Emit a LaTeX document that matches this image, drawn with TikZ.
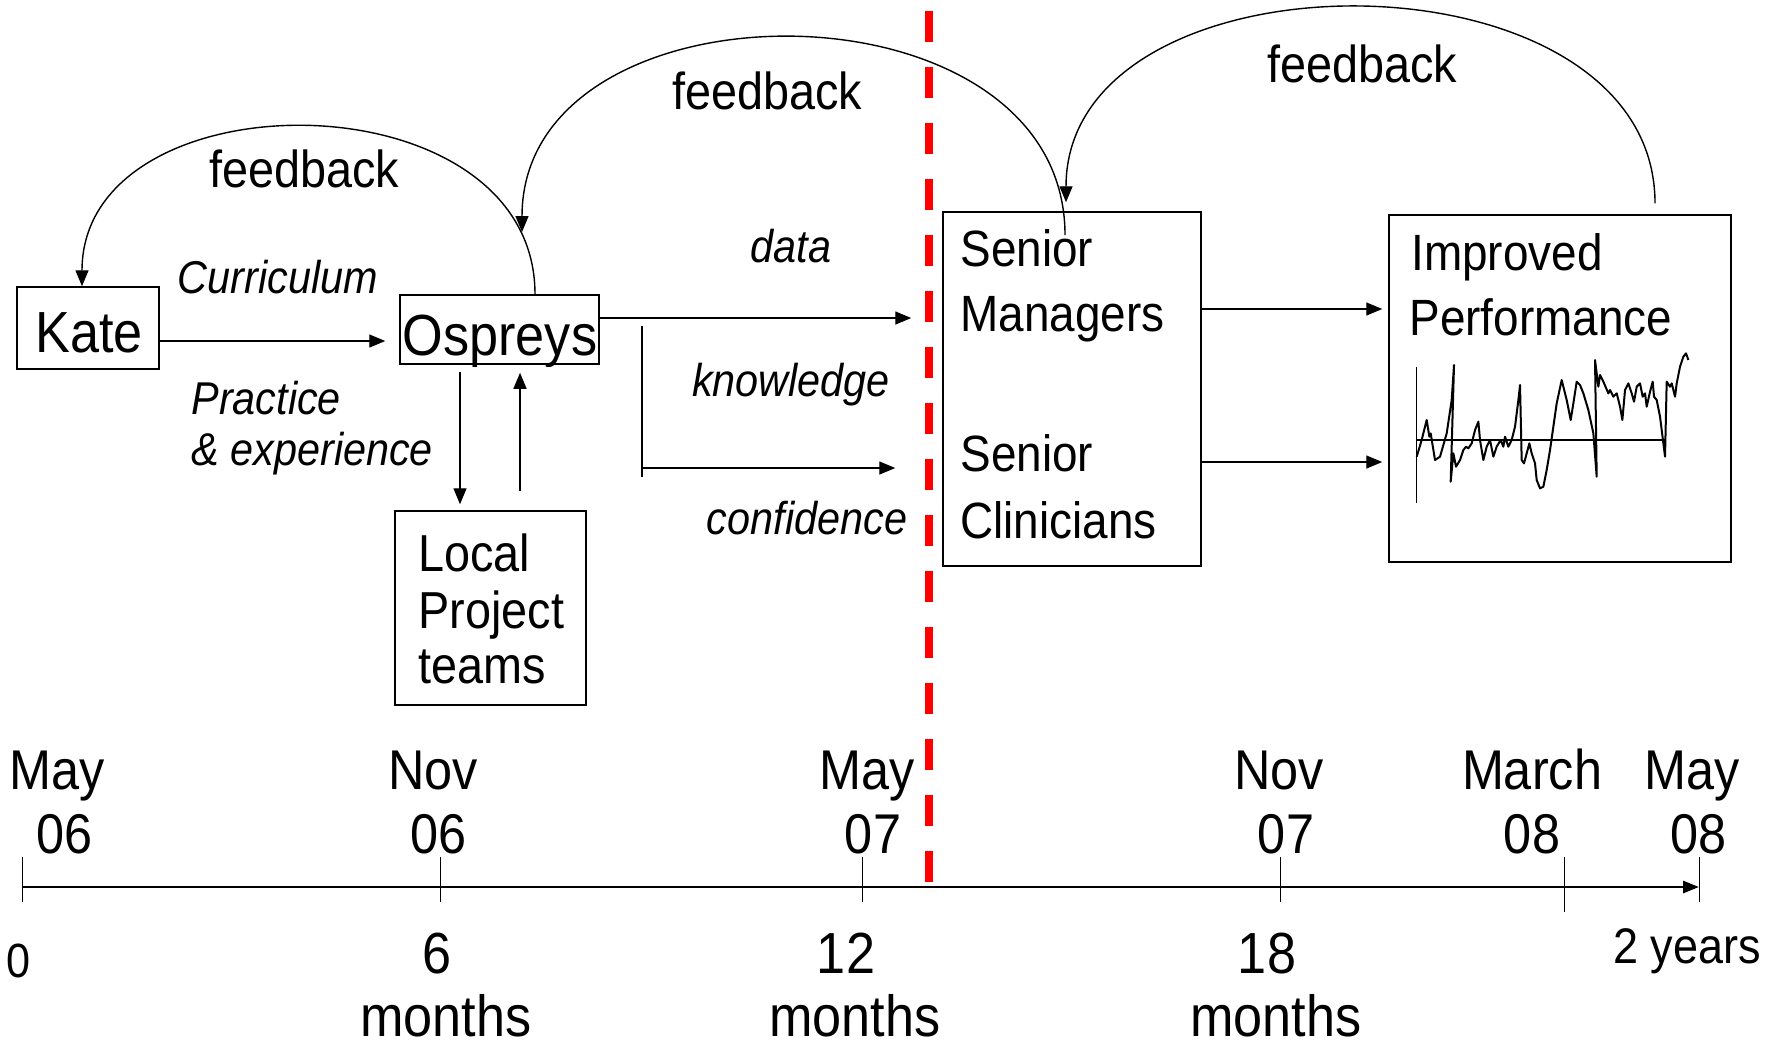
\documentclass[tikz,border=0pt]{standalone}
\usepackage{fontspec}
\setmainfont{Liberation Sans}[FakeStretch=0.9]
\usetikzlibrary{arrows.meta}
\newcommand\myfs[1]{\fontsize{#1pt}{#1pt}\selectfont}
\begin{document}
\begin{tikzpicture}[x=0.5pt,y=-0.5pt,
  box/.style={draw, line width=0.75pt, inner sep=0pt},
  txt/.style={inner sep=0pt, anchor=base west},
  ctxt/.style={inner sep=0pt, anchor=base},
  arr/.style={line width=0.7pt, -{Triangle[length=8pt,width=6.5pt]}},
  reddash/.style={draw=red, line width=3.8pt, dash pattern=on 15.5pt off 12.5pt},
  axisline/.style={line width=1.4pt, -{Triangle[length=8pt,width=6pt]}},
  tickline/.style={line width=0.5pt},
  chartline/.style={line width=1pt, line join=round},
  lbl/.style={ctxt, font={\myfs{23}\itshape}},
  fb/.style={ctxt, font={\myfs{26}}},
  date/.style={ctxt, font={\myfs{28}}},
  mon/.style={ctxt, font={\myfs{29}}}]
\useasboundingbox (0,0) rectangle (1780,1046);
\fill[white] (0,0) rectangle (1780,1046);

% boxes
\node[box, minimum width=71pt, minimum height=41pt] (kate) at (88,328) {};
\node[box, minimum width=99.5pt, minimum height=34.5pt] (ospreys) at (499.5,329.5) {};
\node[box, minimum width=95.5pt, minimum height=97pt] (local) at (490.5,608) {};
\node[box, minimum width=129pt, minimum height=177pt] (senior) at (1072,389) {};
\node[box, minimum width=171pt, minimum height=173.5pt] (improved) at (1560,388.5) {};

% box texts
\node[ctxt, font={\myfs{29}}] (katet) at (89,352) {Kate};
\node[ctxt, font={\myfs{29}}] (osprt) at (500,355) {Ospreys};
\node[txt, font={\myfs{26}}] (loc1) at (418,571) {Local};
\node[txt, font={\myfs{26}}] (loc2) at (418,628) {Project};
\node[txt, font={\myfs{26}}] (loc3) at (418,683) {teams};
\node[txt, font={\myfs{25.5}}] (sm1) at (960,266) {Senior};
\node[txt, font={\myfs{25.5}}] (sm2) at (960,331) {Managers};
\node[txt, font={\myfs{25.5}}] (sc1) at (960,471) {Senior};
\node[txt, font={\myfs{25.5}}] (sc2) at (960,538) {Clinicians};
\node[txt, font={\myfs{25.5}}] (ip1) at (1411,270) {Improved};
\node[txt, font={\myfs{25.5}}] (ip2) at (1409,335) {Performance};

% labels
\node[fb] (fb1) at (304,187) {feedback};
\node[fb] (fb2) at (767,109) {feedback};
\node[fb] (fb3) at (1362,82) {feedback};
\node[lbl] (curr) at (278,293) {Curriculum};
\node[lbl, anchor=base west] (prac) at (191,414) {Practice};
\node[lbl, anchor=base west] (exper) at (191,465) {\& experience};
\node[lbl] (datal) at (791,262) {data};
\node[lbl] (knowl) at (791,396) {knowledge};
\node[lbl] (confl) at (807,534) {confidence};

% straight connectors
\draw[arr, shorten >=7pt] (kate.east |- 0,341) -- (ospreys.west |- 0,341);
\draw[arr, shorten <=3.5pt, shorten >=3pt] (ospreys.south -| 460,0) -- (local.north -| 460,0);
\draw[arr, shorten <=9.5pt, shorten >=4pt] (local.north -| 520,0) -- (ospreys.south -| 520,0);
\draw[arr, shorten >=15.5pt] (ospreys.east |- 0,318) -- (senior.west |- 0,318);
\coordinate (kb1) at (642,326);
\coordinate (kb2) at (642,477);
\coordinate (kb3) at (642,468);
\draw[line width=0.7pt] (kb1) -- (kb2);
\draw[arr, shorten >=23.5pt] (kb3) -- (senior.west |- kb3);
\draw[arr, shorten >=3pt] (senior.east |- 0,309) -- (improved.west |- 0,309);
\draw[arr, shorten >=3pt] (senior.east |- 0,462) -- (improved.west |- 0,462);

% feedback arcs
\coordinate (a1s) at (535,295);
\draw[arr] (ospreys.north -| a1s) .. controls (535,73) and (82,73) .. (kate.north -| 82,0);
\coordinate (a2s) at (1065,235);
\coordinate (a2e) at (522,232);
\draw[arr] (a2s) .. controls (1065,-27) and (522,-27) .. (a2e);
\coordinate (a3s) at (1655,215);
\draw[arr, shorten <=5.5pt, shorten >=4.5pt] (improved.north -| a3s) .. controls (1655,-57) and (1066,-57) .. (senior.north -| 1066,0);

% chart
\begin{scope}[shift={(1380,200)}, x=0.16667pt, y=-0.16667pt]
\draw[line width=0.7pt] (110,500) -- (110,910);
\draw[line width=0.7pt] (110,720) -- (855,720);
\draw[chartline] plot coordinates {(110,770) (125,720) (140,660) (148,710) (152,700) (165,780) (180,770) (200,700) (215,600) (222,495) (212,845) (220,760) (228,800) (240,780) (250,750) (258,740) (265,745) (275,730) (285,690) (295,665) (300,720) (310,780) (320,740) (330,720) (340,770) (350,740) (362,720) (370,740) (375,710) (385,740) (395,720) (405,680) (415,600) (420,555) (425,780) (432,790) (440,760) (448,730) (455,760) (465,790) (470,840) (480,865) (490,860) (500,810) (510,750) (520,680) (530,610) (545,540) (560,600) (572,660) (580,610) (590,545) (600,555) (610,580) (625,630) (640,700) (650,830) (645,480) (655,560) (660,525) (670,545) (685,580) (690,570) (700,590) (710,580) (720,620) (727,660) (735,570) (745,550) (755,580) (762,605) (770,560) (780,550) (788,590) (795,580) (800,620) (810,575) (818,545) (822,590) (830,600) (840,650) (855,770) (860,545) (870,560) (875,550) (885,590) (890,550) (900,500) (910,470) (918,460) (925,480)};
\end{scope}

% red dashed divider
\draw[reddash] (929,11) -- (929,882);

% timeline
\coordinate (t0) at (22,887);
\coordinate (tend) at (1699,887);
\draw[axisline] (t0) -- (tend);
\draw[tickline] (22,857) -- (22,902);
\draw[tickline] (440,857) -- (440,902);
\draw[tickline] (862,857) -- (862,902);
\draw[tickline] (1280,857) -- (1280,902);
\draw[tickline] (1564,857) -- (1564,912);
\draw[tickline] (1699,857) -- (1699,902);

\node[date] (d1a) at (57,789) {May};
\node[date] (d1b) at (65,853) {06};
\node[date] (d2a) at (433,789) {Nov};
\node[date] (d2b) at (439,853) {06};
\node[date] (d3a) at (867,789) {May};
\node[date] (d3b) at (873,853) {07};
\node[date] (d4a) at (1279,789) {Nov};
\node[date] (d4b) at (1286,853) {07};
\node[date] (d5a) at (1532,789) {March};
\node[date] (d5b) at (1532,853) {08};
\node[date] (d6a) at (1692,789) {May};
\node[date] (d6b) at (1698,853) {08};

\node[ctxt, font={\myfs{24}}] (m0) at (19,977) {0};
\node[mon] (m6) at (437,973) {6};
\node[mon] (m6b) at (446,1036) {months};
\node[mon] (m12) at (846,973) {12};
\node[mon] (m12b) at (855,1036) {months};
\node[mon] (m18) at (1267,973) {18};
\node[mon] (m18b) at (1276,1036) {months};
\node[ctxt, font={\myfs{25}}] (m24) at (1687,963) {2 years};
\end{tikzpicture}
\end{document}
